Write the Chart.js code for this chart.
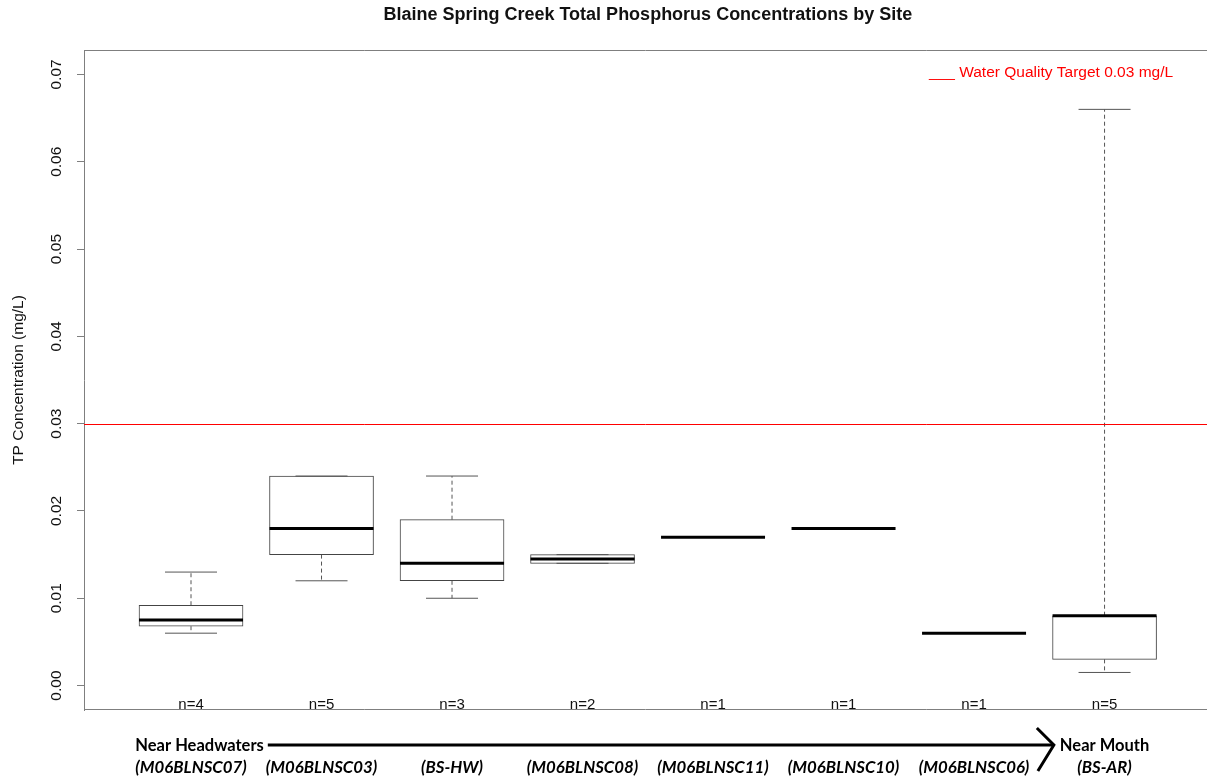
<!DOCTYPE html>
<html>
<head>
<meta charset="utf-8">
<script src="https://cdn.jsdelivr.net/npm/chart.js@4.4.1/dist/chart.umd.min.js"></script>
<style>
html,body{margin:0;padding:0;background:#fff;overflow:hidden}
#wrap{width:1207px;height:780px;position:relative}
</style>
</head>
<body>
<div id="wrap"><canvas id="c" width="1207" height="780"></canvas></div>
<script>
// ---------- data ----------
const siteLabels   = ['(M06BLNSC07)', '(M06BLNSC03)', '(BS-HW)', '(M06BLNSC08)', '(M06BLNSC11)', '(M06BLNSC10)', '(M06BLNSC06)', '(BS-AR)'];
const sampleCounts = [4, 5, 3, 2, 1, 1, 1, 5];
const whiskerLow   = [0.0060, 0.012, 0.010, 0.0140, 0.017, 0.018, 0.006, 0.0015];
const quartile1    = [0.0068, 0.015, 0.012, 0.0140, 0.017, 0.018, 0.006, 0.0030];
const medians      = [0.0075, 0.018, 0.014, 0.0145, 0.017, 0.018, 0.006, 0.0080];
const quartile3    = [0.0092, 0.024, 0.019, 0.0150, 0.017, 0.018, 0.006, 0.0080];
const whiskerHigh  = [0.0130, 0.024, 0.024, 0.0150, 0.017, 0.018, 0.006, 0.0660];
const yTickValues  = [0.00, 0.01, 0.02, 0.03, 0.04, 0.05, 0.06, 0.07];
const targetValue  = 0.03;
const targetLabel  = '___ Water Quality Target 0.03 mg/L';
const chartTitle   = 'Blaine Spring Creek Total Phosphorus Concentrations by Site';
const yAxisTitle   = 'TP Concentration (mg/L)';
const startLabel   = 'Near Headwaters';
const endLabel     = 'Near Mouth';

// ---------- scale limits (R style: ylim 0..0.07 extended 4%) ----------
const yLimLow = 0, yLimHigh = 0.07;
const yPad = (yLimHigh - yLimLow) * 0.04;
const xMin = 0.18, xMax = 8.785;

const positions = siteLabels.map((_, i) => i + 1);

// ---------- datasets built from arrays ----------
const boxData = positions.map((x, i) => ({ x: x, y: [quartile1[i], quartile3[i]] }));
const whiskerData = [];
positions.forEach((x, i) => {
  whiskerData.push({ x: x, y: quartile3[i] }, { x: x, y: whiskerHigh[i] }, { x: x, y: null });
  whiskerData.push({ x: x, y: quartile1[i] }, { x: x, y: whiskerLow[i] }, { x: x, y: null });
});
const capData = [];
positions.forEach((x, i) => { capData.push({ x: x, y: whiskerHigh[i] }, { x: x, y: whiskerLow[i] }); });
const medianData = positions.map((x, i) => ({ x: x, y: medians[i] }));

const AXIS_GRAY = '#7f7f7f';
const ARIAL = '"Liberation Sans", Arial, sans-serif';
const CALIBRI = 'Lato, "Open Sans", sans-serif';

const decor = {
  id: 'decor',
  afterDatasetsDraw(chart) {
    const { ctx, chartArea: a, scales: { y } } = chart;
    const ty = Math.round(y.getPixelForValue(targetValue)) + 0.5;
    ctx.save();
    ctx.strokeStyle = '#ff0000';
    ctx.lineWidth = 1;
    ctx.beginPath(); ctx.moveTo(a.left, ty); ctx.lineTo(a.right, ty); ctx.stroke();
    ctx.restore();
  },
  afterDraw(chart) {
    const { ctx, chartArea: a, scales: { x, y } } = chart;
    ctx.save();
    // frame top & bottom
    ctx.strokeStyle = AXIS_GRAY; ctx.lineWidth = 1;
    ctx.beginPath();
    ctx.moveTo(a.left, Math.round(a.top) + 0.5); ctx.lineTo(a.right, Math.round(a.top) + 0.5);
    ctx.moveTo(a.left, Math.round(a.bottom) - 0.5); ctx.lineTo(a.right, Math.round(a.bottom) - 0.5);
    ctx.stroke();

    // title
    const firstX = x.getPixelForValue(positions[0]);
    const lastX = x.getPixelForValue(positions[positions.length - 1]);
    ctx.fillStyle = '#111';
    ctx.font = 'bold 18px ' + ARIAL;
    ctx.textAlign = 'center'; ctx.textBaseline = 'middle';
    ctx.fillText(chartTitle, (firstX + lastX) / 2, 15);

    // y axis title
    ctx.save();
    ctx.translate(19, (a.top + a.bottom) / 2);
    ctx.rotate(-Math.PI / 2);
    ctx.font = '15.5px ' + ARIAL;
    ctx.fillStyle = '#111';
    ctx.fillText(yAxisTitle, 0, 0);
    ctx.restore();

    // n labels
    ctx.font = '15px ' + ARIAL;
    ctx.fillStyle = '#111';
    positions.forEach((p, i) => {
      ctx.fillText('n=' + sampleCounts[i], x.getPixelForValue(p), a.bottom - 5);
    });

    // target legend
    ctx.fillStyle = '#ff0000';
    ctx.textAlign = 'left';
    ctx.font = '15.5px ' + ARIAL;
    ctx.fillText(targetLabel, 929, 73);

    // bottom site labels
    ctx.fillStyle = '#000';
    ctx.textAlign = 'center';
    ctx.font = 'italic bold 16.8px ' + CALIBRI;
    positions.forEach((p, i) => {
      ctx.fillText(siteLabels[i], x.getPixelForValue(p), 768);
    });
    const firstLabelW = ctx.measureText(siteLabels[0]).width;
    const startLeft = firstX - firstLabelW / 2;

    ctx.font = 'bold 16.5px ' + CALIBRI;
    ctx.textAlign = 'left';
    ctx.fillText(startLabel, startLeft, 746);
    const startW = ctx.measureText(startLabel).width;
    ctx.textAlign = 'center';
    ctx.fillText(endLabel, lastX, 746);
    const endW = ctx.measureText(endLabel).width;

    // arrow
    const ax0 = startLeft + startW + 4;
    const ax1 = lastX - endW / 2 - 6;
    ctx.strokeStyle = '#000';
    ctx.lineWidth = 3;
    ctx.beginPath(); ctx.moveTo(ax0, 745); ctx.lineTo(ax1, 745); ctx.stroke();
    ctx.beginPath();
    ctx.moveTo(ax1 - 17, 728); ctx.lineTo(ax1, 745); ctx.lineTo(ax1 - 16, 771);
    ctx.stroke();
    ctx.restore();
  }
};

new Chart(document.getElementById('c'), {
  type: 'bar',
  data: {
    datasets: [
      {
        type: 'scatter', label: 'Median', data: medianData, order: 0,
        pointStyle: 'line', pointRadius: 52, pointHoverRadius: 52,
        borderColor: '#000', backgroundColor: '#000', borderWidth: 3, pointBorderWidth: 3
      },
      {
        type: 'scatter', label: 'Whisker caps', data: capData, order: 1,
        pointStyle: 'line', pointRadius: 26, pointHoverRadius: 26,
        borderColor: '#555', backgroundColor: '#555', borderWidth: 1, pointBorderWidth: 1
      },
      {
        type: 'bar', label: 'IQR', data: boxData, order: 2,
        backgroundColor: '#fff', borderColor: '#444', borderWidth: 1,
        borderSkipped: false, barThickness: 104, grouped: false
      },
      {
        type: 'line', label: 'Whiskers', data: whiskerData, order: 3,
        borderColor: '#555', borderWidth: 1, borderDash: [4, 3],
        pointRadius: 0, spanGaps: false, fill: false, tension: 0
      }
    ]
  },
  options: {
    responsive: false,
    animation: false,
    events: [],
    layout: { autoPadding: false, padding: { top: 50, bottom: 70, left: 0, right: 0 } },
    plugins: { legend: { display: false }, tooltip: { enabled: false }, title: { display: false } },
    scales: {
      x: { type: 'linear', min: xMin, max: xMax, display: false, offset: false },
      y: {
        min: yLimLow - yPad, max: yLimHigh + yPad,
        afterBuildTicks: s => { s.ticks = yTickValues.map(v => ({ value: v })); },
        afterFit: s => { s.width = 84; },
        ticks: {
          callback: v => Number(v).toFixed(2),
          font: { family: ARIAL, size: 15.5 },
          color: '#111', minRotation: 90, maxRotation: 90, crossAlign: 'center', padding: 5
        },
        grid: { drawOnChartArea: false, drawTicks: true, tickLength: 7, color: AXIS_GRAY },
        border: { color: AXIS_GRAY, width: 1 }
      }
    }
  },
  plugins: [decor]
});
</script>
</body>
</html>
